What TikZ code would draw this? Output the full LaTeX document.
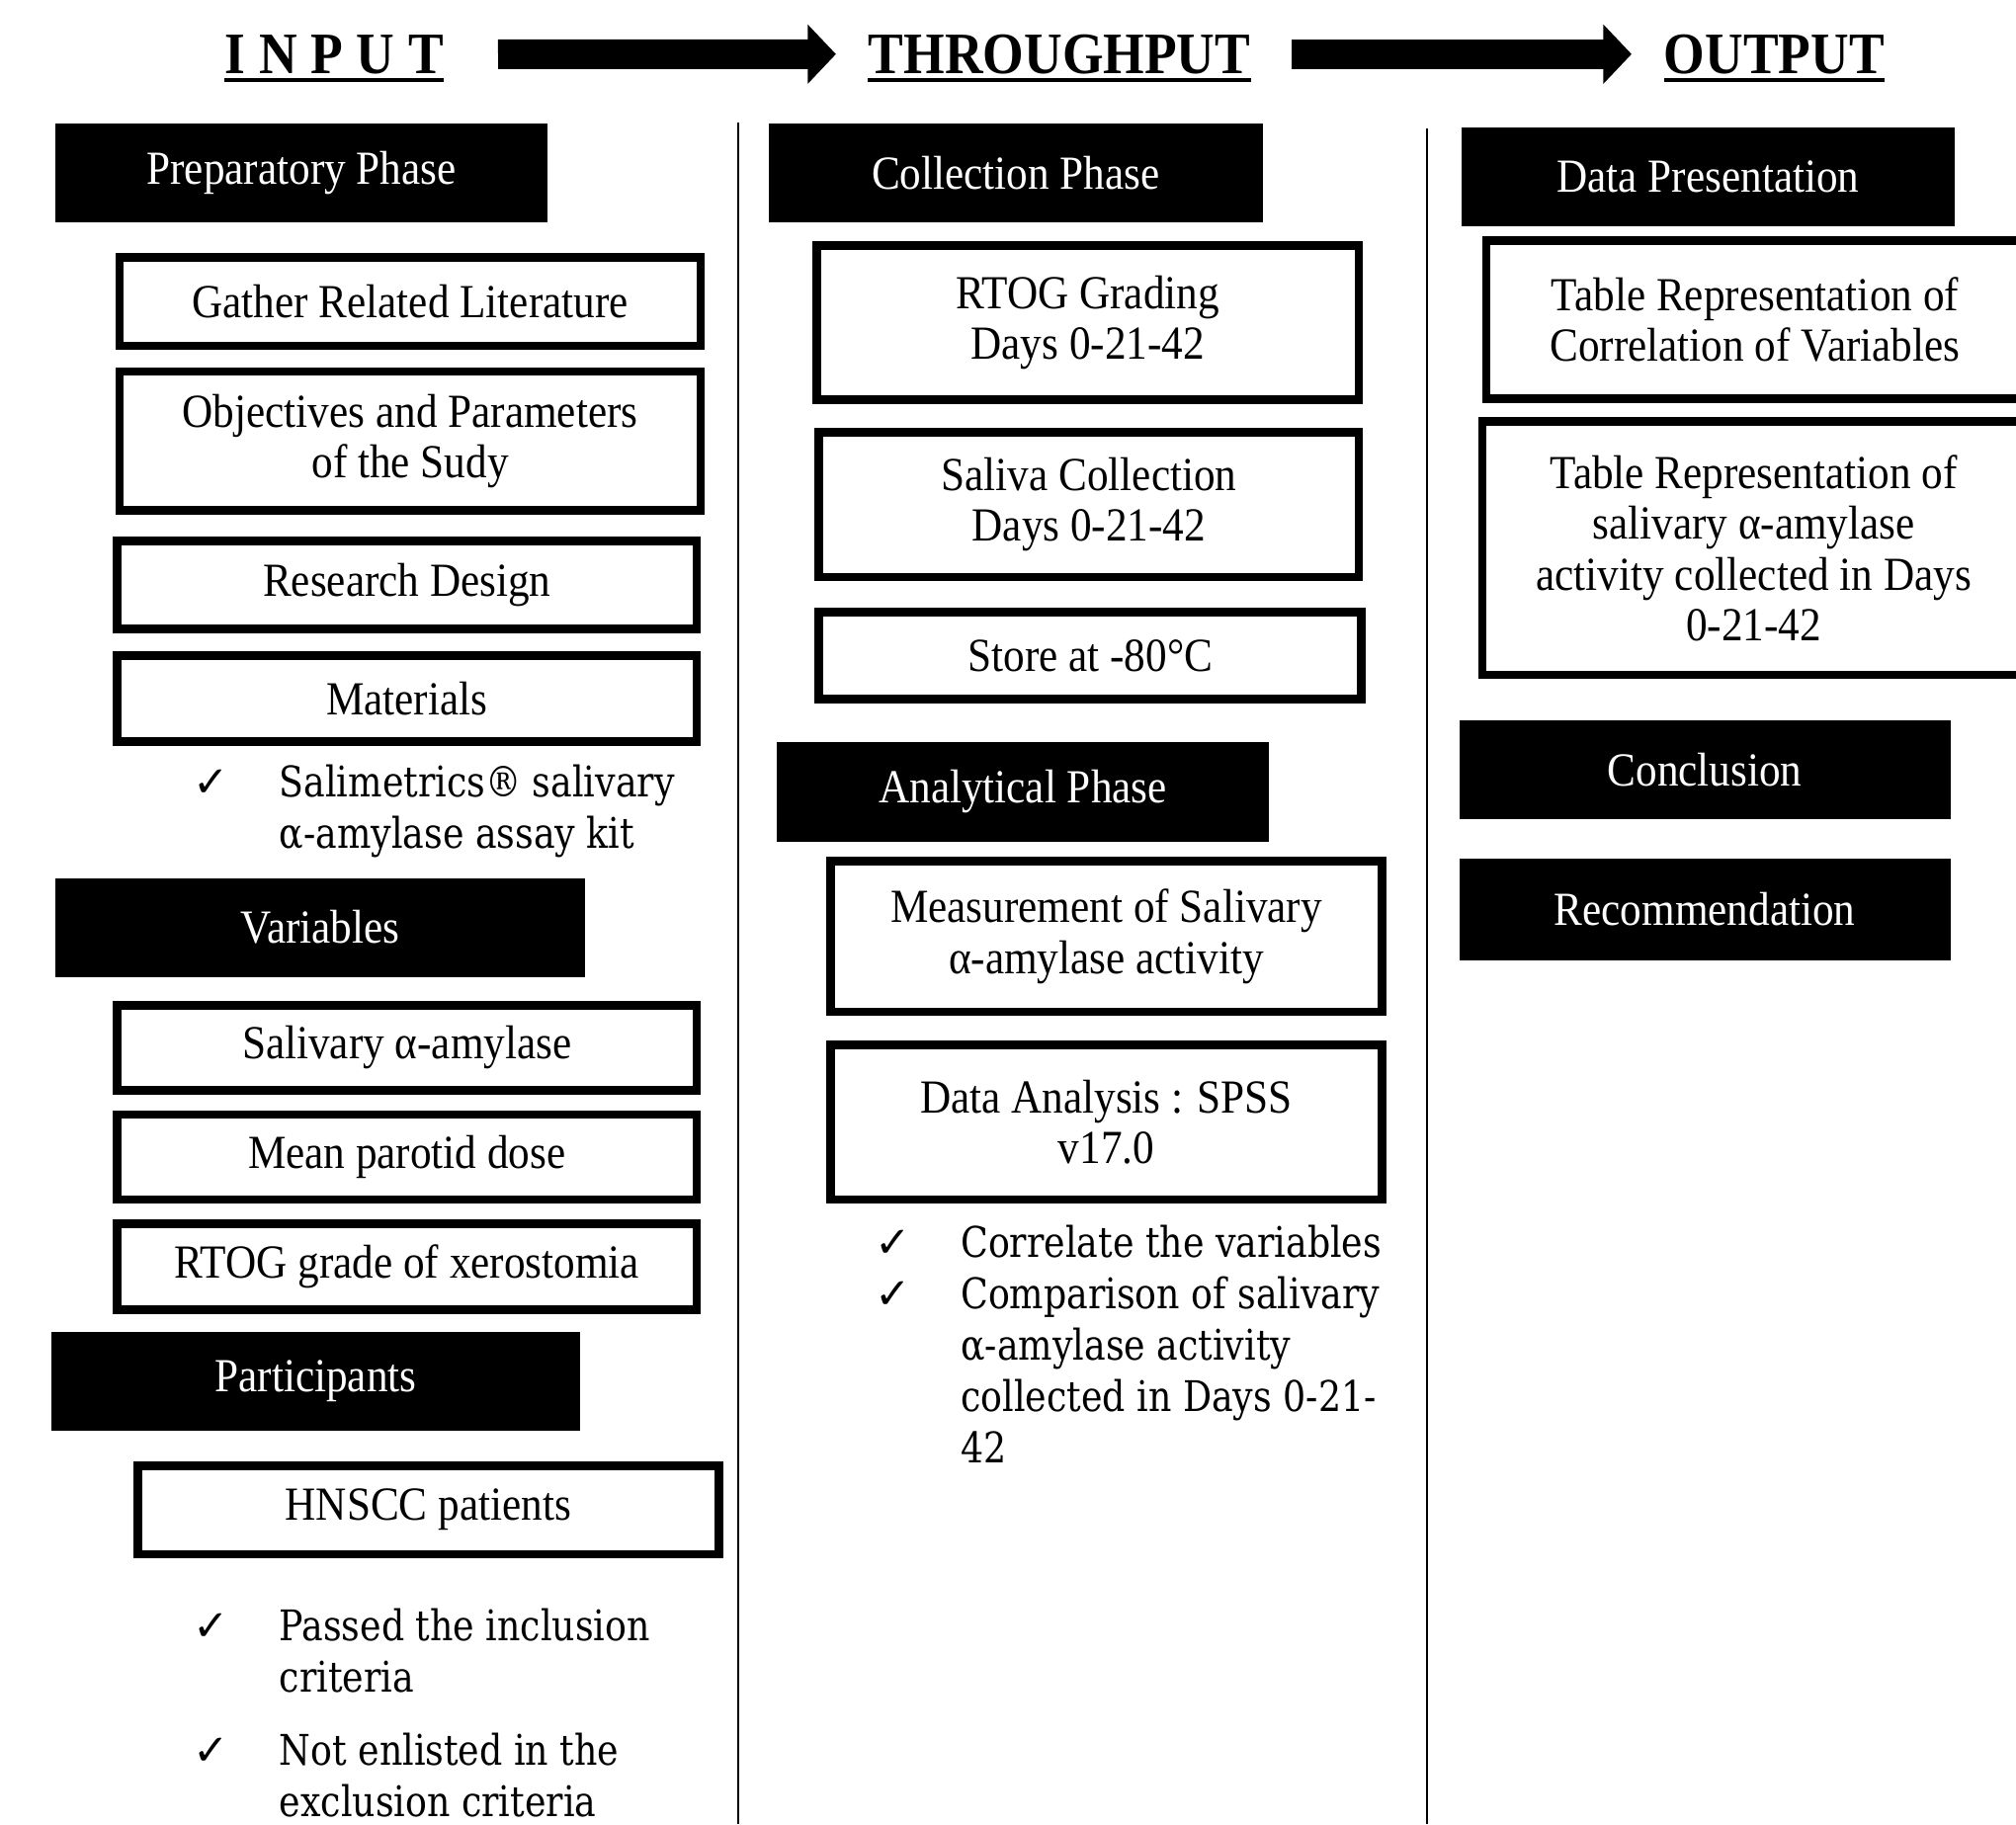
\documentclass[tikz,border=0pt]{standalone}
\usepackage{fontspec}
\setmainfont{Liberation Serif}
\newfontfamily\boxfont{Liberation Serif}[FakeStretch=0.9]
\newfontfamily\listfont{DejaVu Serif}[FakeStretch=0.85]
\newfontfamily\checkfont{DejaVu Sans}
\usetikzlibrary{arrows.meta}

\newcommand{\ck}{{\checkfont\fontsize{19}{19}\selectfont ✓}}

\begin{document}
\begin{tikzpicture}[x=0.02cm, y=-0.02cm,
    phase/.style={fill=black, text=white, font=\boxfont\fontsize{21}{22.4}\selectfont,
        minimum height=1.54cm, inner sep=0pt},
    stepbox/.style={draw, line width=3.8pt, font=\boxfont\fontsize{21}{22.4}\selectfont,
        align=center, inner sep=0pt},
    heading/.style={font=\boxfont\bfseries\fontsize{26}{26}\selectfont, inner sep=0pt, anchor=base},
    bigarrow/.style={line width=0.46cm, -{Triangle[width=0.9cm, length=0.44cm]}},
    ticklist/.style={font=\listfont\fontsize{18.7}{22.8}\selectfont, anchor=base west, inner sep=0pt},
    divider/.style={line width=1.1pt}]
    \useasboundingbox (0,0) rectangle (1568,1419);

    % Define the headings
    \node[heading] (input) at (260,57) {I\hspace{6pt}N\hspace{6pt}P\hspace{6pt}U\hspace{6pt}T};
    \node[heading] (through) at (824,57) {THROUGHPUT};
    \node[heading] (output) at (1380,57) {OUTPUT};
    \foreach \h in {input, through, output}
        \draw[line width=1.7pt] ([yshift=-3pt]\h.base west) -- ([yshift=-3pt]\h.base east);
    \draw[bigarrow, shorten <=0.84cm, shorten >=0.5cm] (input.east) -- (through.west);
    \draw[bigarrow, shorten <=0.64cm, shorten >=0.5cm] (through.east) -- (output.west);

    % Column dividers
    \draw[divider] (574,95) -- (574,1419);
    \draw[divider] (1110,100) -- (1110,1419);

    % Input column
    \node[phase, minimum width=7.66cm] (prep) at (234.5,134.5) {Preparatory Phase};
    \node[stepbox, minimum width=9.04cm, minimum height=1.38cm] (gather) at (319,234.5) {Gather Related Literature};
    \node[stepbox, minimum width=9.04cm, minimum height=2.16cm] (objectives) at (319,343) {Objectives and Parameters\\of the Sudy};
    \node[stepbox, minimum width=9.02cm, minimum height=1.36cm] (design) at (316.5,455) {Research Design};
    \node[stepbox, minimum width=9.02cm, minimum height=1.34cm] (materials) at (316.5,543.5) {Materials};
    \node[ticklist] (kit) at (150,620) {\begin{tabular}[t]{@{}p{1.34cm}@{}l@{}}
        \ck & Salimetrics® salivary\\ & α-amylase assay kit\end{tabular}};
    \node[phase, minimum width=8.24cm] (variables) at (249,721.5) {Variables};
    \node[stepbox, minimum width=9.02cm, minimum height=1.32cm] (salivary) at (316.5,815) {Salivary α-amylase};
    \node[stepbox, minimum width=9.02cm, minimum height=1.32cm] (parotid) at (316.5,900) {Mean parotid dose};
    \node[stepbox, minimum width=9.02cm, minimum height=1.34cm] (rtoggrade) at (316.5,985.5) {RTOG grade of xerostomia};
    \node[phase, minimum width=8.22cm] (participants) at (245.5,1074.5) {Participants};
    \node[stepbox, minimum width=9.04cm, minimum height=1.38cm] (hnscc) at (333,1174.5) {HNSCC patients};
    \node[ticklist] (inclusion) at (150,1276) {\begin{tabular}[t]{@{}p{1.34cm}@{}l@{}}
        \ck & Passed the inclusion\\ & criteria\end{tabular}};
    \node[ticklist] (exclusion) at (150,1373) {\begin{tabular}[t]{@{}p{1.34cm}@{}l@{}}
        \ck & Not enlisted in the\\ & exclusion criteria\end{tabular}};

    % Throughput column
    \node[phase, minimum width=7.68cm] (collection) at (790,134.5) {Collection Phase};
    \node[stepbox, minimum width=8.44cm, minimum height=2.40cm] (grading) at (846,251) {RTOG Grading\\Days 0-21-42};
    \node[stepbox, minimum width=8.40cm, minimum height=2.26cm] (saliva) at (847,392.5) {Saliva Collection\\Days 0-21-42};
    \node[stepbox, minimum width=8.44cm, minimum height=1.36cm] (store) at (848,510) {Store at -80°C};
    \node[phase, minimum width=7.66cm, minimum height=1.56cm] (analytical) at (795.5,616) {Analytical Phase};
    \node[stepbox, minimum width=8.58cm, minimum height=2.34cm] (measure) at (860.5,728.5) {Measurement of Salivary\\α-amylase activity};
    \node[stepbox, minimum width=8.58cm, minimum height=2.40cm] (spss) at (860.5,873) {Data Analysis : SPSS\\v17.0};
    \node[ticklist] (stats) at (680,978) {\begin{tabular}[t]{@{}p{1.34cm}@{}l@{}}
        \ck & Correlate the variables\\
        \ck & Comparison of salivary\\ & α-amylase activity\\ & collected in Days 0-21-\\ & 42\end{tabular}};

    % Output column
    \node[phase, minimum width=7.66cm] (presentation) at (1328.5,137.5) {Data Presentation};
    \node[stepbox, minimum width=8.36cm, minimum height=2.46cm] (table1) at (1365,248.5) {Table Representation of\\Correlation of Variables};
    \node[stepbox, minimum width=8.44cm, minimum height=3.94cm] (table2) at (1364,426.5) {Table Representation of\\salivary α-amylase\\activity collected in Days\\0-21-42};
    \node[phase, minimum width=7.64cm] (conclusion) at (1326,598.5) {Conclusion};
    \node[phase, minimum width=7.64cm, minimum height=1.58cm] (recommend) at (1326,707.5) {Recommendation};
\end{tikzpicture}
\end{document}
